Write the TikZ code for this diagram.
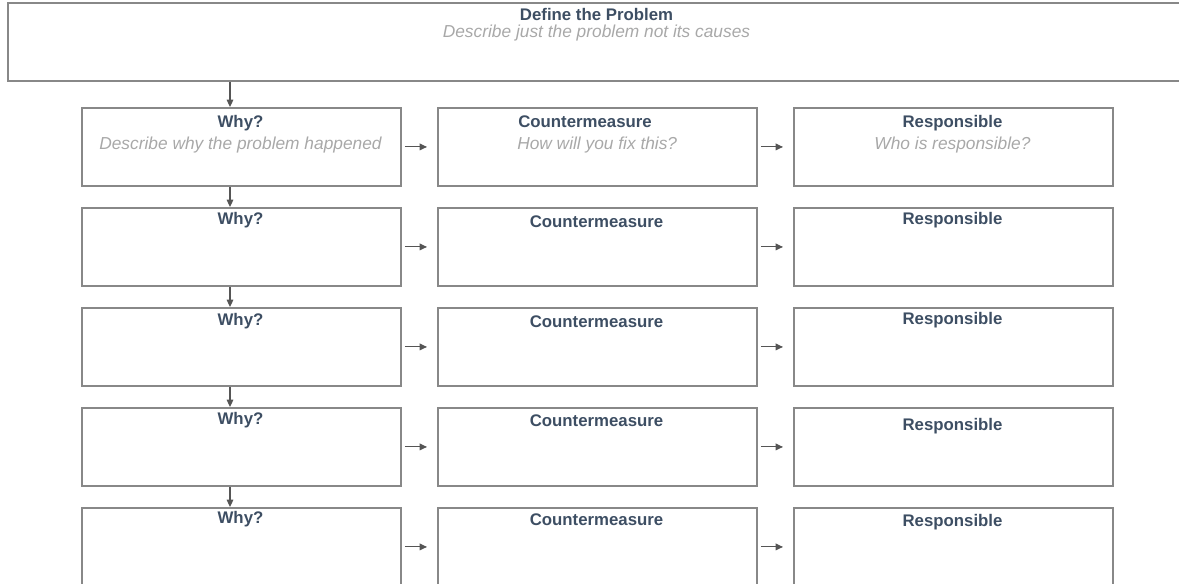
\documentclass[tikz,border=0pt]{standalone}
\usepackage{fontspec}
\setmainfont{Liberation Sans}
\usetikzlibrary{arrows.meta}
\definecolor{titlec}{HTML}{3D4E63}
\definecolor{subc}{HTML}{A8A8A8}
\definecolor{boxc}{HTML}{888888}
\definecolor{arrc}{HTML}{555555}
\begin{document}
\begin{tikzpicture}[x=0.75pt,y=-0.75pt,
  box/.style={draw=boxc,line width=1.4pt,minimum width=239.25pt,minimum height=58.5pt,inner sep=0pt,anchor=north west},
  ttl/.style={text=titlec,font=\bfseries\fontsize{12.6}{15}\selectfont,inner sep=0pt,anchor=base},
  sub/.style={text=subc,font=\itshape\fontsize{13}{15}\selectfont,inner sep=0pt,anchor=base},
  arr/.style={draw=arrc,line width=0.8pt,-{Triangle[length=5.5pt,width=5pt]}},
  harr/.style={arr,shorten <=2.25pt,shorten >=7.5pt}]
\useasboundingbox (0,0) rectangle (1179,583);
\clip (0,0) rectangle (1179,583);
% top box
\node[box,minimum width=884.25pt] (top) at (7,2) {};
\node[ttl] (topt) at (596.5,20) {Define the Problem};
\node[sub] (tops) at (596.5,37) {Describe just the problem not its causes};
% row 1
\node[box] (why1) at (81,107) {};
\node[box] (cm1) at (437,107) {};
\node[box] (rs1) at (793,107) {};
\node[ttl] (whyt1) at (240.5,127) {Why?};
\node[sub] (whys1) at (240.5,149) {Describe why the problem happened};
\node[ttl,anchor=base west] (cmt1) at (518,127) {Countermeasure};
\node[sub,anchor=base west] (cms1) at (517,149) {How will you fix this?};
\node[ttl] (rst1) at (952.5,127) {Responsible};
\node[sub] (rss1) at (952.5,149) {Who is responsible?};
% rows 2-5
\foreach \r/\t/\wy/\cy/\ry in {2/207/224/227/224,3/307/325/327/324,4/407/424/426/430,5/507/523/525/526}{
  \node[box] (why\r) at (81,\t) {};
  \node[box] (cm\r) at (437,\t) {};
  \node[box] (rs\r) at (793,\t) {};
  \node[ttl] (whyt\r) at (240.5,\wy) {Why?};
  \node[ttl] (cmt\r) at (596.5,\cy) {Countermeasure};
  \node[ttl] (rst\r) at (952.5,\ry) {Responsible};
}
% connectors
\coordinate (vx) at (230,0);
\draw[arr] (vx |- top.south) -- (vx |- why1.north);
\foreach \a/\b in {1/2,2/3,3/4,4/5}{
  \draw[arr] (vx |- why\a.south) -- (vx |- why\b.north);
}
\foreach \r in {1,2,3,4,5}{
  \draw[harr] (why\r.east) -- (cm\r.west);
  \draw[harr] (cm\r.east) -- (rs\r.west);
}
\end{tikzpicture}
\end{document}
